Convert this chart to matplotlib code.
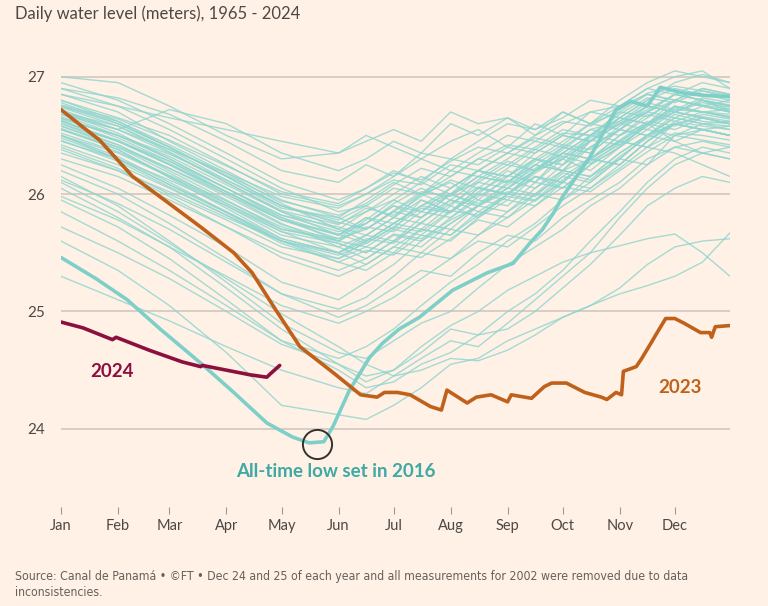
import matplotlib
matplotlib.use("Agg")
import matplotlib.pyplot as plt

# day of year for the 1st of each month (non-leap year)
month_days = [1, 32, 60, 91, 121, 152, 182, 213, 244, 274, 305, 335]
month_labels = ['Jan', 'Feb', 'Mar', 'Apr', 'May', 'Jun', 'Jul', 'Aug', 'Sep', 'Oct', 'Nov', 'Dec']

bg_days = [1, 32, 60, 91, 121, 152, 167, 182, 197, 213, 228, 244, 259, 274, 289, 305, 320, 335, 350, 365]

# other years 1965 - 2022 (metres)
bg_years = [
    [26.95, 26.8, 26.6, 26.35, 26.1, 25.95, 26.05, 26.2, 26.1, 26.3, 26.25, 26.4, 26.35, 26.5, 26.45, 26.65, 26.8, 26.95, 27.02, 26.95],
    [26.9, 26.75, 26.55, 26.3, 26.05, 25.85, 25.9, 25.8, 26.0, 26.1, 25.95, 26.15, 26.3, 26.2, 26.45, 26.6, 26.7, 26.85, 26.8, 26.75],
    [26.85, 26.7, 26.45, 26.2, 25.95, 25.8, 25.7, 25.85, 26.0, 25.9, 26.1, 26.05, 26.25, 26.4, 26.35, 26.55, 26.75, 26.7, 26.8, 26.7],
    [26.8, 26.65, 26.5, 26.25, 26.0, 25.9, 26.0, 26.15, 26.3, 26.2, 26.35, 26.5, 26.45, 26.6, 26.7, 26.65, 26.8, 26.9, 26.85, 26.8],
    [26.78, 26.6, 26.4, 26.15, 25.9, 25.75, 25.85, 25.95, 25.85, 26.05, 26.2, 26.1, 26.3, 26.25, 26.5, 26.6, 26.55, 26.7, 26.65, 26.6],
    [26.75, 26.62, 26.42, 26.18, 25.92, 25.7, 25.6, 25.75, 25.9, 26.0, 25.9, 26.05, 26.2, 26.3, 26.2, 26.4, 26.6, 26.75, 26.7, 26.68],
    [26.72, 26.55, 26.35, 26.1, 25.85, 25.65, 25.8, 25.7, 25.95, 25.85, 26.0, 26.2, 26.1, 26.35, 26.5, 26.65, 26.6, 26.8, 26.75, 26.7],
    [26.7, 26.58, 26.38, 26.12, 25.88, 25.8, 25.95, 26.1, 26.0, 26.15, 26.3, 26.25, 26.4, 26.55, 26.5, 26.7, 26.85, 26.8, 26.9, 26.85],
    [26.68, 26.5, 26.3, 26.05, 25.8, 25.6, 25.55, 25.7, 25.65, 25.85, 26.0, 25.95, 26.15, 26.1, 26.3, 26.45, 26.4, 26.6, 26.55, 26.5],
    [26.65, 26.5, 26.32, 26.08, 25.85, 25.7, 25.85, 26.0, 26.15, 26.05, 26.2, 26.35, 26.3, 26.45, 26.6, 26.55, 26.7, 26.85, 26.8, 26.75],
    [26.63, 26.45, 26.25, 26.0, 25.75, 25.55, 25.65, 25.6, 25.8, 25.95, 25.85, 26.0, 26.15, 26.05, 26.25, 26.4, 26.55, 26.5, 26.6, 26.55],
    [26.6, 26.42, 26.2, 25.95, 25.7, 25.6, 25.75, 25.9, 25.8, 26.0, 26.1, 26.25, 26.2, 26.4, 26.35, 26.55, 26.7, 26.65, 26.75, 26.7],
    [26.6, 26.45, 26.28, 26.05, 25.82, 25.72, 25.65, 25.8, 25.95, 25.85, 26.05, 26.0, 26.2, 26.35, 26.3, 26.5, 26.65, 26.8, 26.75, 26.8],
    [26.58, 26.4, 26.18, 25.92, 25.68, 25.5, 25.6, 25.75, 25.7, 25.9, 25.8, 26.0, 25.95, 26.15, 26.3, 26.25, 26.45, 26.6, 26.55, 26.5],
    [26.55, 26.4, 26.22, 26.0, 25.78, 25.65, 25.8, 25.75, 25.9, 26.05, 26.2, 26.15, 26.3, 26.25, 26.45, 26.6, 26.75, 26.7, 26.8, 26.72],
    [26.55, 26.38, 26.15, 25.9, 25.65, 25.55, 25.45, 25.6, 25.75, 25.7, 25.9, 26.05, 26.0, 26.2, 26.15, 26.35, 26.5, 26.65, 26.6, 26.62],
    [26.5, 26.35, 26.15, 25.92, 25.7, 25.62, 25.78, 25.95, 26.1, 26.0, 26.2, 26.15, 26.35, 26.5, 26.45, 26.65, 26.6, 26.75, 26.7, 26.65],
    [26.5, 26.32, 26.1, 25.85, 25.6, 25.45, 25.55, 25.5, 25.7, 25.65, 25.85, 25.8, 26.0, 26.15, 26.1, 26.3, 26.5, 26.45, 26.55, 26.5],
    [26.48, 26.3, 26.08, 25.85, 25.62, 25.5, 25.65, 25.8, 25.75, 25.95, 25.9, 26.1, 26.25, 26.2, 26.4, 26.55, 26.5, 26.65, 26.6, 26.58],
    [26.45, 26.3, 26.12, 25.9, 25.68, 25.58, 25.5, 25.65, 25.6, 25.8, 25.95, 25.9, 26.1, 26.05, 26.25, 26.4, 26.6, 26.55, 26.65, 26.6],
    [26.42, 26.25, 26.05, 25.82, 25.58, 25.42, 25.52, 25.48, 25.65, 25.6, 25.8, 25.95, 25.9, 26.1, 26.3, 26.25, 26.45, 26.6, 26.55, 26.5],
    [26.4, 26.22, 26.0, 25.78, 25.55, 25.45, 25.6, 25.75, 25.9, 25.85, 26.05, 26.0, 26.2, 26.35, 26.5, 26.45, 26.6, 26.7, 26.65, 26.6],
    [26.35, 26.2, 26.02, 25.8, 25.6, 25.5, 25.4, 25.55, 25.5, 25.7, 25.65, 25.85, 26.0, 25.95, 26.15, 26.3, 26.25, 26.4, 26.35, 26.3],
    [26.3, 26.15, 25.95, 25.72, 25.5, 25.35, 25.45, 25.6, 25.55, 25.75, 25.9, 25.85, 26.05, 26.2, 26.15, 26.35, 26.5, 26.6, 26.55, 26.5],
    [27.0, 26.95, 26.75, 26.5, 26.3, 26.35, 26.45, 26.55, 26.45, 26.7, 26.6, 26.65, 26.55, 26.7, 26.6, 26.8, 26.95, 27.05, 27.0, 26.95],
    [26.85, 26.75, 26.65, 26.55, 26.45, 26.35, 26.5, 26.4, 26.3, 26.45, 26.55, 26.4, 26.6, 26.5, 26.7, 26.75, 26.9, 27.0, 27.05, 26.9],
    [26.7, 26.55, 26.72, 26.6, 26.35, 26.2, 26.3, 26.45, 26.35, 26.6, 26.5, 26.65, 26.5, 26.7, 26.6, 26.75, 26.85, 26.8, 26.9, 26.85],
    [26.9, 26.82, 26.68, 26.45, 26.2, 26.1, 26.25, 26.15, 26.35, 26.3, 26.45, 26.6, 26.55, 26.65, 26.8, 26.75, 26.9, 26.85, 26.95, 26.9],
    [26.62, 26.45, 26.25, 26.02, 25.8, 25.65, 25.75, 25.9, 25.85, 26.0, 26.15, 26.1, 26.25, 26.2, 26.3, 26.45, 26.4, 26.35, 26.25, 26.15],
    [26.75, 26.6, 26.4, 26.15, 25.9, 25.78, 25.9, 26.05, 26.0, 26.2, 26.15, 26.3, 26.45, 26.4, 26.55, 26.5, 26.6, 26.45, 26.35, 26.3],
    [26.7, 26.52, 26.3, 26.05, 25.82, 25.68, 25.75, 25.92, 26.05, 25.95, 26.12, 26.28, 26.2, 26.38, 26.55, 26.62, 26.75, 26.7, 26.78, 26.74],
    [26.66, 26.48, 26.28, 26.02, 25.78, 25.62, 25.7, 25.85, 25.8, 26.0, 25.92, 26.08, 26.22, 26.35, 26.3, 26.5, 26.68, 26.62, 26.7, 26.66],
    [26.58, 26.42, 26.22, 25.98, 25.74, 25.6, 25.72, 25.68, 25.85, 25.8, 25.98, 26.12, 26.05, 26.25, 26.4, 26.55, 26.5, 26.68, 26.62, 26.6],
    [26.52, 26.36, 26.16, 25.94, 25.72, 25.58, 25.5, 25.66, 25.62, 25.78, 25.9, 26.02, 25.98, 26.18, 26.12, 26.32, 26.48, 26.6, 26.55, 26.58],
    [26.74, 26.58, 26.36, 26.1, 25.86, 25.74, 25.88, 25.82, 25.98, 26.12, 26.05, 26.22, 26.38, 26.32, 26.48, 26.62, 26.78, 26.72, 26.82, 26.78],
    [26.64, 26.5, 26.34, 26.12, 25.9, 25.76, 25.7, 25.86, 26.02, 25.98, 26.15, 26.1, 26.28, 26.42, 26.38, 26.58, 26.72, 26.85, 26.8, 26.76],
    [26.46, 26.28, 26.06, 25.82, 25.6, 25.48, 25.58, 25.72, 25.68, 25.86, 25.82, 26.0, 26.15, 26.1, 26.3, 26.46, 26.62, 26.58, 26.68, 26.64],
    [26.56, 26.38, 26.14, 25.88, 25.62, 25.5, 25.62, 25.58, 25.76, 25.92, 26.06, 26.0, 26.18, 26.32, 26.26, 26.44, 26.6, 26.72, 26.7, 26.66],
    [26.8, 26.62, 26.4, 26.16, 25.94, 25.82, 25.92, 26.08, 26.22, 26.15, 26.3, 26.42, 26.38, 26.52, 26.5, 26.68, 26.82, 26.78, 26.88, 26.82],
    [26.62, 26.46, 26.26, 26.02, 25.78, 25.66, 25.58, 25.72, 25.88, 25.84, 26.02, 26.16, 26.1, 26.3, 26.46, 26.42, 26.58, 26.74, 26.7, 26.72],
    [26.38, 26.2, 25.98, 25.72, 25.46, 25.3, 25.4, 25.55, 25.7, 25.65, 25.82, 25.98, 25.94, 26.12, 26.28, 26.42, 26.58, 26.7, 26.66, 26.62],
    [26.68, 26.55, 26.38, 26.18, 25.98, 25.88, 26.0, 26.12, 26.08, 26.25, 26.2, 26.35, 26.48, 26.42, 26.6, 26.7, 26.66, 26.8, 26.76, 26.72],
    [26.5, 26.3, 26.08, 25.84, 25.6, 25.42, 25.35, 25.5, 25.46, 25.62, 25.78, 25.72, 25.9, 26.06, 26.02, 26.2, 26.36, 26.5, 26.46, 26.42],
    [26.76, 26.64, 26.46, 26.24, 26.02, 25.92, 26.05, 26.18, 26.12, 26.28, 26.4, 26.35, 26.5, 26.62, 26.58, 26.72, 26.86, 26.92, 26.88, 26.84],
    [26.2, 26.0, 25.75, 25.45, 25.15, 24.95, 25.05, 25.2, 25.35, 25.3, 25.5, 25.65, 25.6, 25.8, 25.95, 26.1, 26.3, 26.4, 26.45, 26.4],
    [26.15, 25.9, 25.6, 25.25, 24.9, 24.65, 24.6, 24.75, 24.9, 25.0, 25.2, 25.4, 25.55, 25.7, 25.9, 26.05, 26.25, 26.5, 26.55, 26.5],
    [26.05, 25.8, 25.55, 25.2, 24.85, 24.55, 24.4, 24.5, 24.65, 24.85, 24.8, 25.0, 25.15, 25.35, 25.6, 25.85, 26.1, 26.3, 26.4, 26.35],
    [25.95, 25.72, 25.45, 25.1, 24.75, 24.5, 24.35, 24.4, 24.55, 24.65, 24.8, 24.85, 25.0, 25.2, 25.4, 25.65, 25.9, 26.05, 26.15, 26.1],
    [25.72, 25.5, 25.28, 25.0, 24.72, 24.55, 24.45, 24.5, 24.7, 24.88, 25.0, 25.18, 25.3, 25.42, 25.5, 25.56, 25.62, 25.66, 25.5, 25.3],
    [25.6, 25.35, 25.05, 24.65, 24.2, 24.12, 24.08, 24.2, 24.35, 24.55, 24.6, 24.75, 24.85, 24.95, 25.05, 25.2, 25.4, 25.55, 25.6, 25.62],
    [25.3, 25.1, 24.92, 24.7, 24.5, 24.35, 24.3, 24.45, 24.6, 24.75, 24.7, 24.9, 25.1, 25.3, 25.5, 25.8, 26.05, 26.25, 26.35, 26.4],
    [25.85, 25.6, 25.35, 25.05, 24.75, 24.6, 24.7, 24.85, 25.05, 25.25, 25.4, 25.6, 25.75, 25.95, 26.1, 26.3, 26.5, 26.6, 26.65, 26.6],
    [26.25, 26.05, 25.82, 25.55, 25.25, 25.1, 25.25, 25.4, 25.6, 25.75, 25.9, 26.05, 26.2, 26.3, 26.45, 26.6, 26.7, 26.8, 26.75, 26.7],
    [26.1, 25.85, 25.58, 25.28, 24.98, 24.7, 24.55, 24.45, 24.5, 24.6, 24.58, 24.67, 24.8, 24.95, 25.05, 25.15, 25.22, 25.3, 25.42, 25.67],
    [25.98, 25.78, 25.55, 25.3, 25.05, 24.9, 25.0, 25.12, 25.28, 25.45, 25.6, 25.55, 25.72, 25.9, 26.05, 26.22, 26.4, 26.52, 26.5, 26.46],
    [26.12, 25.92, 25.7, 25.42, 25.15, 25.02, 25.12, 25.3, 25.5, 25.45, 25.65, 25.8, 25.95, 26.1, 26.05, 26.25, 26.45, 26.62, 26.58, 26.55],
]

# 2016, the record low year
days_2016 = [1, 20, 37, 55, 77, 95, 113, 127, 136, 144, 149, 158, 169, 176, 185, 196, 214, 233, 247, 256,
             263, 269, 274, 289, 303, 311, 320, 327, 340, 352, 365]
level_2016 = [25.46, 25.28, 25.10, 24.85, 24.56, 24.31, 24.05, 23.93, 23.88, 23.89, 24.02, 24.33, 24.61, 24.73, 24.85, 24.95,
              25.18, 25.33, 25.41, 25.58, 25.70, 25.84, 25.98, 26.32, 26.72, 26.79, 26.75, 26.91, 26.86, 26.84, 26.83]

# 2023
days_2023 = [1, 13, 22, 40, 59, 77, 95, 105, 118, 131, 140, 149, 164, 173, 177, 184, 191, 202, 208, 211, 222, 227,
             235, 244, 246, 257, 264, 268, 276, 286, 295, 298, 303, 306, 307, 314, 317, 322, 325, 330, 335, 340,
             349, 354, 355, 357, 365]
level_2023 = [26.72, 26.57, 26.46, 26.15, 25.93, 25.72, 25.50, 25.33, 25.01, 24.70, 24.59, 24.48, 24.29, 24.27, 24.31,
              24.31, 24.29, 24.19, 24.16, 24.33, 24.22, 24.27, 24.29, 24.23, 24.29, 24.26, 24.36, 24.39, 24.39, 24.31,
              24.27, 24.25, 24.31, 24.29, 24.49, 24.53, 24.60, 24.73, 24.81, 24.94, 24.94, 24.90, 24.82, 24.82, 24.78,
              24.87, 24.88]

# 2024 (to end of April)
days_2024 = [1, 13, 29, 31, 49, 67, 77, 78, 91, 104, 113, 115, 120]
level_2024 = [24.91, 24.86, 24.76, 24.78, 24.67, 24.57, 24.53, 24.54, 24.50, 24.46, 24.44, 24.47, 24.54]

bg = '#fff1e5'
teal = '#8dd5cf'
teal_dark = '#3fa9a3'
orange = '#c0611b'
claret = '#8c0f3d'
text_col = '#4d4845'

plt.rcParams['font.family'] = ['Lato', 'DejaVu Sans']

fig = plt.figure(figsize=(7.68, 6.06), dpi=100, facecolor=bg)
ax = fig.add_axes([0.0794, 0.1634, 0.8711, 0.7293])
ax.set_facecolor(bg)

for vals in bg_years:
    ax.plot(bg_days, vals, color=teal, lw=1, alpha=0.8, zorder=2)

ax.plot(days_2016, level_2016, color='#7fcfc9', lw=2.6, zorder=3, solid_capstyle='round')
ax.plot(days_2023, level_2023, color=orange, lw=2.6, zorder=4, solid_capstyle='round')
ax.plot(days_2024, level_2024, color=claret, lw=2.6, zorder=4, solid_capstyle='round')

# circle round the all-time low
ax.plot([140.3], [23.87], marker='o', ms=21, mfc='none', mec='#33302e', mew=1.4, zorder=5)

ax.text(28.7, 24.485, '2024', color=claret, fontsize=13.5, fontweight='bold', ha='center', va='center')
ax.text(338, 24.35, '2023', color=orange, fontsize=13.5, fontweight='bold', ha='center', va='center')
ax.text(150.6, 23.64, 'All-time low set in 2016', color=teal_dark, fontsize=13.5, fontweight='bold',
        ha='center', va='center')

ax.set_xlim(1, 365)
ax.set_ylim(23.334, 27.1)
ax.set_yticks([24, 25, 26, 27])
ax.set_xticks(month_days)
ax.set_xticklabels(month_labels)
ax.grid(axis='y', color='#cdc4bb', lw=1.1, zorder=1)
ax.grid(axis='x', visible=False)
for s in ax.spines.values():
    s.set_visible(False)
ax.tick_params(axis='y', length=0, pad=11.5, labelsize=11, labelcolor='#4d4845')
ax.tick_params(axis='x', length=5, width=0.8, color='#9e9892', pad=4, labelsize=10.5, labelcolor='#4d4845')

fig.text(0.0195, 0.977, 'Daily water level (meters), 1965 - 2024', fontsize=12, color=text_col,
         ha='left', va='center')
fig.text(0.0195, 0.035, 'Source: Canal de Panamá • ©FT • Dec 24 and 25 of each year and all measurements for 2002 '
         'were removed due to data\ninconsistencies.', fontsize=8.8, color='#66605c', ha='left', va='center',
         family='DejaVu Sans', fontstretch='condensed', linespacing=1.3)

fig.savefig('out.png', dpi=100, facecolor=bg)
